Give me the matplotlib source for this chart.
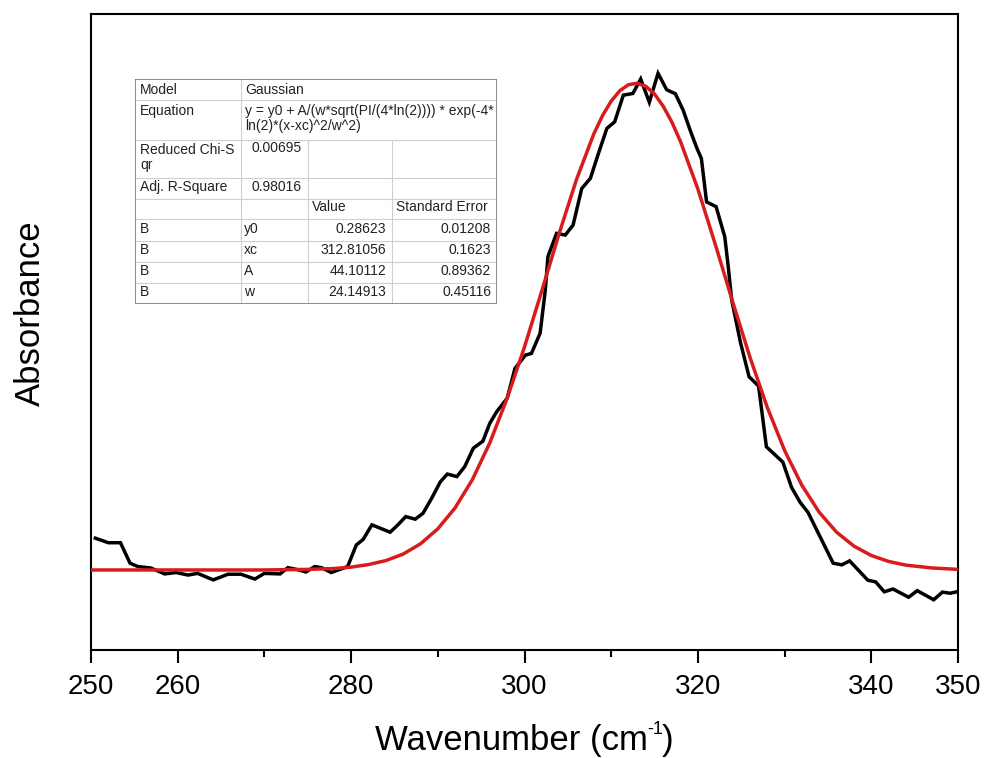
import matplotlib
matplotlib.use("Agg")
import matplotlib.pyplot as plt
from matplotlib.ticker import FixedLocator
from matplotlib.transforms import offset_copy

plt.rcParams['font.family'] = ['Liberation Sans', 'DejaVu Sans']

# ---------------- data ----------------
wavenumber = [250.5, 252.0, 253.4, 254.5, 255.4, 256.9, 258.5, 259.8, 261.2, 262.3,
              264.1, 265.8, 267.3, 268.9, 270.0, 271.8, 272.7, 273.7, 274.8, 275.8,
              276.6, 277.7, 278.7, 279.6, 280.6, 281.4, 282.4, 284.5, 285.4, 286.3,
              287.4, 288.3, 289.3, 290.3, 291.1, 292.2, 293.1, 294.1, 295.2, 296.0,
              296.8, 298.0, 298.9, 300.1, 300.8, 301.8, 302.4, 302.7, 303.7, 304.7,
              305.6, 306.6, 307.6, 308.5, 309.5, 310.4, 311.4, 312.5, 313.4, 314.4,
              315.4, 316.4, 317.4, 318.3, 319.1, 319.9, 320.4, 321.0, 322.1, 323.1,
              323.5, 323.9, 324.9, 325.9, 327.0, 327.9, 329.8, 330.8, 331.8, 332.7,
              335.6, 336.6, 337.5, 339.6, 340.5, 341.5, 342.5, 344.3, 345.3, 347.2,
              348.2, 349.1, 350.0]
absorbance = [0.398, 0.382, 0.382, 0.310, 0.298, 0.293, 0.272, 0.277, 0.268, 0.274,
              0.251, 0.271, 0.271, 0.254, 0.274, 0.272, 0.294, 0.288, 0.279, 0.298,
              0.294, 0.277, 0.288, 0.298, 0.374, 0.394, 0.445, 0.419, 0.445, 0.474,
              0.465, 0.486, 0.539, 0.597, 0.624, 0.615, 0.650, 0.715, 0.740, 0.803,
              0.844, 0.891, 0.996, 1.043, 1.049, 1.120, 1.272, 1.390, 1.472, 1.466,
              1.501, 1.630, 1.666, 1.751, 1.842, 1.865, 1.959, 1.965, 2.016, 1.934,
              2.036, 1.978, 1.964, 1.906, 1.836, 1.771, 1.736, 1.583, 1.566, 1.460,
              1.354, 1.237, 1.089, 0.967, 0.934, 0.720, 0.666, 0.577, 0.524, 0.489,
              0.310, 0.304, 0.318, 0.250, 0.244, 0.209, 0.219, 0.190, 0.213, 0.181,
              0.208, 0.204, 0.210]

fit_wavenumber = [250, 260, 270, 275, 278, 280, 282, 284, 286, 288, 290, 292, 294, 296,
                  298, 300, 302, 304, 306, 308, 309, 310, 311, 312, 313, 314, 315, 316,
                  317, 318, 320, 322, 324, 326, 328, 330, 332, 334, 336, 338, 340, 342,
                  344, 347, 350]
fit_absorbance = [0.286, 0.286, 0.286, 0.288, 0.291, 0.296, 0.305, 0.319, 0.342, 0.378,
                  0.431, 0.505, 0.605, 0.734, 0.891, 1.072, 1.270, 1.472, 1.662, 1.823,
                  1.887, 1.938, 1.975, 1.996, 2.001, 1.990, 1.963, 1.920, 1.864, 1.795,
                  1.628, 1.434, 1.232, 1.036, 0.859, 0.707, 0.584, 0.489, 0.419, 0.370,
                  0.337, 0.316, 0.303, 0.293, 0.288]

major_ticks = [250, 260, 280, 300, 320, 340, 350]
minor_ticks = [270, 290, 310, 330]

table_top = [["Model", "Gaussian"],
             ["Equation", "y = y0 + A/(w*sqrt(PI/(4*ln(2)))) * exp(-4*\nln(2)*(x-xc)^2/w^2)"]]
table_stats = [["Reduced Chi-S\nqr", "0.00695"],
               ["Adj. R-Square", "0.98016"]]
table_header = ["", "", "Value", "Standard Error"]
param_names = ["y0", "xc", "A", "w"]
param_values = ["0.28623", "312.81056", "44.10112", "24.14913"]
param_errors = ["0.01208", "0.1623", "0.89362", "0.45116"]

xlabel_parts = ["Wavenumber (cm", "-1", ")"]
ylabel_text = "Absorbance"

# ---------------- figure ----------------
W, H = 984, 758
fig = plt.figure(figsize=(W / 100, H / 100), dpi=100)
L, R, T, B = 91, 958, 14, 650
ax = fig.add_axes([L / W, 1 - B / H, (R - L) / W, (B - T) / H])

ax.plot(wavenumber, absorbance, color='black', lw=2.5, zorder=2,
        solid_joinstyle='miter')
ax.plot(fit_wavenumber, fit_absorbance, color='#d81c1c', lw=2.5, zorder=3)

ax.set_xlim(250, 350)
ax.set_ylim(0.004, 2.245)
ax.set_yticks([])
ax.xaxis.set_major_locator(FixedLocator(major_ticks))
ax.xaxis.set_minor_locator(FixedLocator(minor_ticks))
ax.tick_params(axis='x', which='major', direction='out', length=9, width=1.5,
               labelsize=20, pad=8)
ax.tick_params(axis='x', which='minor', direction='out', length=5, width=1.5)
for s in ax.spines.values():
    s.set_linewidth(1.5)

ax.set_ylabel(ylabel_text, fontsize=25)
ax.yaxis.set_label_coords((30 - L) / (R - L), (B - 313) / (B - T))
ax.yaxis.label.set_va('center')

# x label composed of pieces (small superscript like the reference)
renderer = fig.canvas.get_renderer()
fs_lab, fs_sup = 25, 13
base_y = 1 - 750 / H          # baseline in figure fraction
pieces = [(xlabel_parts[0], fs_lab, 0), (xlabel_parts[1], fs_sup, 16), (xlabel_parts[2], fs_lab, 0)]
widths = []
for txt, fs, _ in pieces:
    t = fig.text(0, 0, txt, fontsize=fs)
    widths.append(t.get_window_extent(renderer).width)
    t.remove()
total = sum(widths) - 2
x = ((L + R) / 2) - total / 2
for (txt, fs, dy), w in zip(pieces, widths):
    fig.text(x / W, base_y + dy / H, txt, fontsize=fs, va='baseline', ha='left')
    x += w - 1

# ---------------- parameter table ----------------
tx0, tx1, ty0, ty1 = 135, 497, 79, 304
tax = fig.add_axes([tx0 / W, 1 - ty1 / H, (tx1 - tx0) / W, (ty1 - ty0) / H])
tax.set_xlim(tx0, tx1)
tax.set_ylim(ty1, ty0)
tax.axis('off')

cols = [135, 241, 308, 392, 497]
rows = [79, 100, 140, 178, 199, 219, 240.5, 261.5, 282.5, 304]
grid_c = '#cfcfcf'
for yl in rows[1:-1]:
    tax.plot([tx0, tx1], [yl, yl], color=grid_c, lw=0.8)
tax.plot([cols[1], cols[1]], [ty0, ty1], color=grid_c, lw=0.8)
for xc in cols[2:4]:
    tax.plot([xc, xc], [rows[2], ty1], color=grid_c, lw=0.8)
tax.plot([tx0, tx1, tx1, tx0, tx0], [ty0, ty0, ty1, ty1, ty0], color='#7a7a7a', lw=1.2)

fs = 10
tc = '#222222'
tax.text(140, 90, table_top[0][0], fontsize=fs, color=tc, va='center')
tax.text(245, 90, table_top[0][1], fontsize=fs, color=tc, va='center')
tax.text(140, 111, table_top[1][0], fontsize=fs, color=tc, va='center')
tax.text(245, 104, table_top[1][1], fontsize=fs, color=tc, va='top', linespacing=1.1)
stat_y = [148.5, 187]
for (lab, val), yy in zip(table_stats, stat_y):
    if "\n" in lab:
        tax.text(140, yy - 6, lab, fontsize=fs, color=tc, va='top', linespacing=1.1)
    else:
        tax.text(140, yy, lab, fontsize=fs, color=tc, va='center')
    tax.text(302, yy, val, fontsize=fs, color=tc, va='center', ha='right')
tax.text(312, 207, table_header[2], fontsize=fs, color=tc, va='center')
tax.text(396, 207, table_header[3], fontsize=fs, color=tc, va='center')
param_y = [229, 250, 271, 292]
for n, v, e, yy in zip(param_names, param_values, param_errors, param_y):
    tax.text(140, yy, "B", fontsize=fs, color=tc, va='center')
    tax.text(244, yy, n, fontsize=fs, color=tc, va='center')
    tax.text(386, yy, v, fontsize=fs, color=tc, va='center', ha='right')
    tax.text(491, yy, e, fontsize=fs, color=tc, va='center', ha='right')

fig.savefig("out.png", dpi=100)
